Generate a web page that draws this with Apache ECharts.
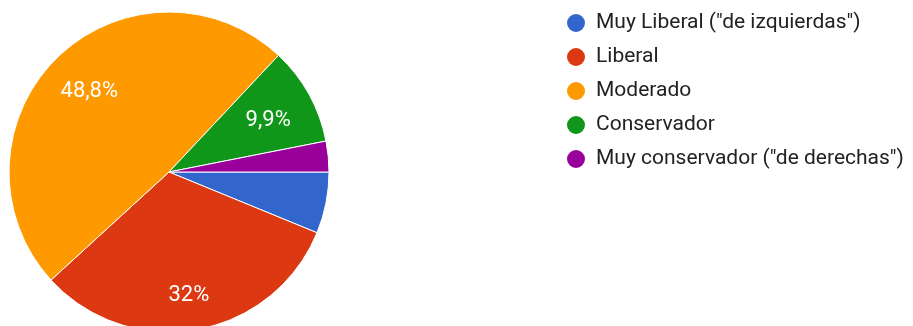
<!DOCTYPE html>
<html>
<head>
<meta charset="utf-8">
<script src="https://cdn.jsdelivr.net/npm/echarts@6/dist/echarts.min.js"></script>
<style>
  html, body { margin: 0; padding: 0; background: #fff; }
  #chart { width: 913px; height: 326px; }
</style>
</head>
<body>
<div id="chart"></div>
<script>
// Answer categories, in survey order
const categories = [
  'Muy Liberal ("de izquierdas")',
  'Liberal',
  'Moderado',
  'Conservador',
  'Muy conservador ("de derechas")'
];
// Share of responses, in percent
const shares = [6.2, 32.0, 48.8, 9.9, 3.1];
// Text shown on slices (small slices stay unlabeled)
const sliceLabels = ['', '32%', '48,8%', '9,9%', ''];
const palette = ['#3366cc', '#dc3912', '#ff9900', '#109618', '#990099'];

const center = [169, 172];
const R = 160;

const pieData = categories.map((name, i) => ({ name, value: shares[i] }));

const chart = echarts.init(document.getElementById('chart'), null, { renderer: 'canvas' });
chart.setOption({
  animation: false,
  color: palette,
  legend: {
    orient: 'vertical',
    left: 565,
    top: 12,
    padding: 0,
    icon: 'circle',
    itemWidth: 20,
    itemHeight: 20,
    itemGap: 12,
    selectedMode: false,
    textStyle: {
      fontFamily: 'Roboto',
      fontSize: 21,
      lineHeight: 20,
      color: '#222222',
      padding: [0, 0, 0, 5]
    },
    data: categories
  },
  series: [
    {
      type: 'pie',
      center: center,
      radius: [0, R],
      startAngle: 0,
      clockwise: true,
      silent: true,
      itemStyle: { borderColor: '#ffffff', borderWidth: 1 },
      label: { show: false },
      labelLine: { show: false },
      data: pieData
    },
    {
      // transparent twin used only to place the percentage text further out
      type: 'pie',
      center: center,
      radius: [0, R * 1.38],
      startAngle: 0,
      clockwise: true,
      silent: true,
      legendHoverLink: false,
      itemStyle: { color: 'rgba(0,0,0,0)', borderWidth: 0 },
      label: {
        show: true,
        position: 'inside',
        fontFamily: 'Roboto',
        fontSize: 22,
        color: '#ffffff',
        formatter: p => sliceLabels[p.dataIndex]
      },
      labelLine: { show: false },
      data: categories.map((name, i) => ({
        name: name + ' ',
        value: shares[i],
        label: i === 1 ? { offset: [0, 12] } : (i === 3 ? { offset: [0, 3] } : undefined)
      }))
    }
  ]
});
</script>
</body>
</html>
